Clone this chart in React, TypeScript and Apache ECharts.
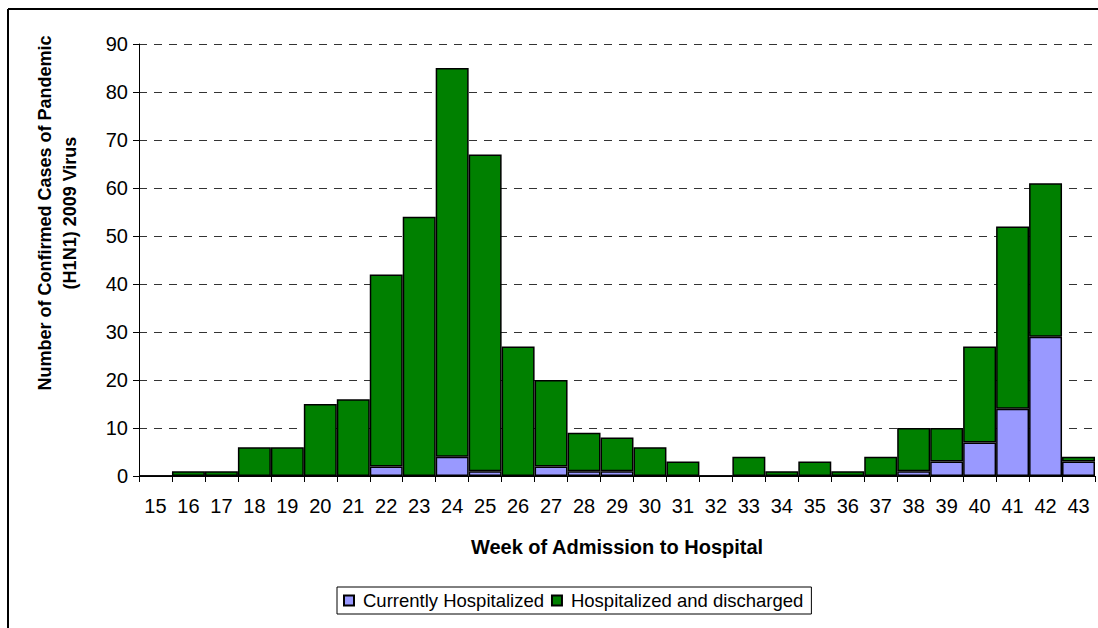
import React, { useEffect, useRef } from "react";
import * as echarts from "echarts";

const weeks = ["15","16","17","18","19","20","21","22","23","24","25","26","27","28","29","30","31","32","33","34","35","36","37","38","39","40","41","42","43"];
const totals = [0,1,1,6,6,15,16,42,54,85,67,27,20,9,8,6,3,0,4,1,3,1,4,10,10,27,52,61,4];
const currentlyHospitalized = [0,0,0,0,0,0,0,2,0,4,1,0,2,1,1,0,0,0,0,0,0,0,0,1,3,7,14,29,3];
const hospitalizedDischarged = totals.map((t, i) => t - currentlyHospitalized[i]);
const yTicks = { min: 0, max: 90, interval: 10 };

export default function App() {
  const ref = useRef<HTMLDivElement>(null);
  useEffect(() => {
    if (!ref.current) return;
    const chart = echarts.init(ref.current, undefined, { renderer: "svg" });
    const font = "Arial, 'Liberation Sans', sans-serif";
    chart.setOption({
      animation: false,
      backgroundColor: "#ffffff",
      textStyle: { fontFamily: font },
      grid: { left: 139, right: 3, top: 44, bottom: 152, containLabel: false },
      xAxis: {
        type: "category",
        data: weeks,
        boundaryGap: true,
        axisLine: { show: true, lineStyle: { color: "#000", width: 1 } },
        axisTick: { show: true, alignWithLabel: false, length: 6, lineStyle: { color: "#000" } },
        axisLabel: { color: "#000", fontSize: 20, margin: 20, fontFamily: font, interval: 0 },
        splitLine: { show: false },
      },
      yAxis: {
        type: "value",
        min: yTicks.min,
        max: yTicks.max,
        interval: yTicks.interval,
        axisLine: { show: true, lineStyle: { color: "#000", width: 1 } },
        axisTick: { show: true, length: 6, lineStyle: { color: "#000" } },
        axisLabel: { color: "#000", fontSize: 20, margin: 11, fontFamily: font },
        splitLine: { show: true, lineStyle: { color: "#333", type: [8, 7], width: 1 } },
      },
      legend: {
        show: true,
        left: 337,
        top: 587,
        orient: "horizontal",
        borderColor: "#000",
        borderWidth: 1,
        padding: [4, 8, 4, 6],
        itemGap: 7,
        itemWidth: 10,
        itemHeight: 10,
        icon: "rect",
        textStyle: { color: "#000", fontSize: 18.5, fontFamily: font, padding: [0, 0, 0, 4] },
        data: ["Currently Hospitalized", "Hospitalized and discharged"],
      },
      graphic: [
        { type: "line", shape: { x1: 8, y1: 9, x2: 1098, y2: 9 }, style: { stroke: "#000", lineWidth: 2 } },
        { type: "line", shape: { x1: 8, y1: 9, x2: 8, y2: 628 }, style: { stroke: "#000", lineWidth: 2 } },
        {
          type: "text",
          x: 617,
          y: 547,
          style: { text: "Week of Admission to Hospital", fontSize: 20, fontWeight: "bold", fill: "#000", align: "center", verticalAlign: "middle", fontFamily: font },
        },
        {
          type: "text",
          x: 57,
          y: 213,
          rotation: Math.PI / 2,
          style: {
            text: "Number of Confirmed Cases of Pandemic\n(H1N1) 2009 Virus",
            fontSize: 18,
            lineHeight: 25,
            fontWeight: "bold",
            fill: "#000",
            align: "center",
            verticalAlign: "middle",
            fontFamily: font,
          },
        },
      ],
      series: [
        {
          name: "Currently Hospitalized",
          type: "bar",
          stack: "total",
          data: currentlyHospitalized,
          barCategoryGap: "0%",
          itemStyle: { color: "#9999FF", borderColor: "#000", borderWidth: 1.5 },
        },
        {
          name: "Hospitalized and discharged",
          type: "bar",
          stack: "total",
          data: hospitalizedDischarged,
          barCategoryGap: "0%",
          itemStyle: { color: "#008000", borderColor: "#000", borderWidth: 1.5 },
        },
      ],
    });
    return () => chart.dispose();
  }, []);
  return <div ref={ref} style={{ position: "absolute", left: 0, top: 0, width: 1098, height: 628 }} />;
}
